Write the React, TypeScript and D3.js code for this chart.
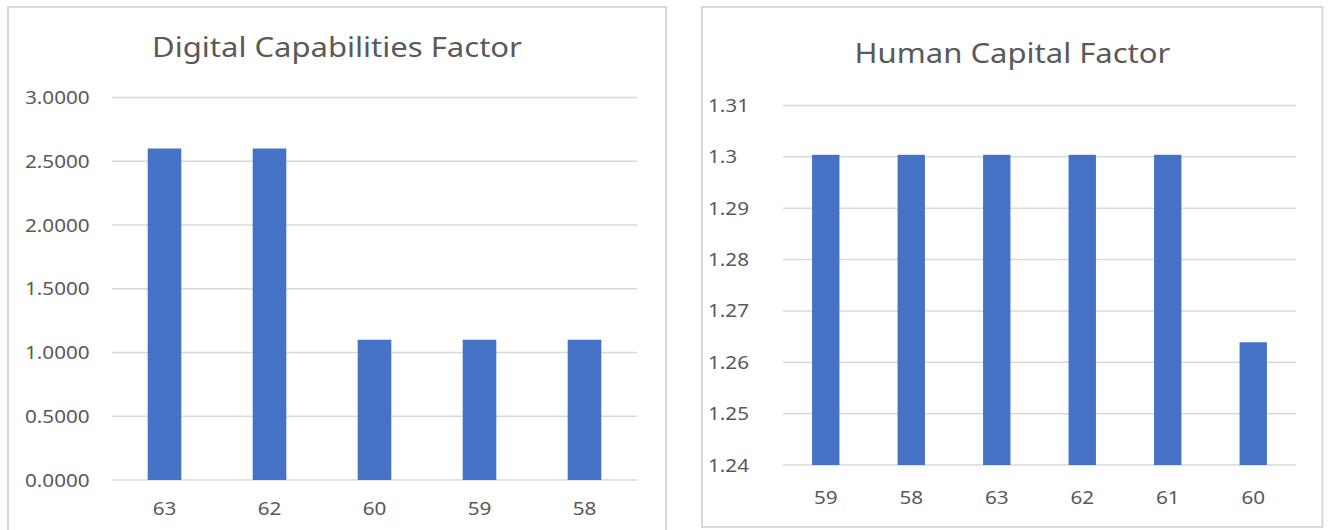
import React from "react";
import * as d3 from "d3";

const leftTitle = "Digital Capabilities Factor";
const leftCategories = ["63", "62", "60", "59", "58"];
const leftValues = [2.6, 2.6, 1.1, 1.1, 1.1];
const leftTicks = [0, 0.5, 1, 1.5, 2, 2.5, 3];

const rightTitle = "Human Capital Factor";
const rightCategories = ["59", "58", "63", "62", "61", "60"];
const rightValues = [1.3004, 1.3004, 1.3004, 1.3004, 1.3004, 1.2639];
const rightTicks = [1.24, 1.25, 1.26, 1.27, 1.28, 1.29, 1.3, 1.31];

const FONT = "'Noto Sans', 'Open Sans', sans-serif";
const TEXT = "#595959";
const GRID = "#d9d9d9";
const BAR = "#4472C4";
const SX = 1.15;

type PanelProps = {
  title: string;
  categories: string[];
  values: number[];
  ticks: number[];
  fmt: (v: number) => string;
  box: { x: number; y: number; w: number; h: number };
  plot: { x0: number; x1: number; y0: number; y1: number };
  domain: [number, number];
  titlePos: { x: number; y: number };
  yLabelX: number;
  xLabelY: number;
};

function SText(props: { x: number; y: number; anchor?: string; size: number; children: React.ReactNode }) {
  return (
    <text
      transform={`translate(${props.x},${props.y}) scale(${SX},1)`}
      textAnchor={props.anchor || "start"}
      fontSize={props.size}
      fontFamily={FONT}
      fill={TEXT}
    >
      {props.children}
    </text>
  );
}

function Panel(p: PanelProps) {
  const x = d3
    .scaleBand<string>()
    .domain(p.categories)
    .range([p.plot.x0, p.plot.x1])
    .paddingInner(0.68)
    .paddingOuter(0.34);
  const y = d3.scaleLinear().domain(p.domain).range([p.plot.y0, p.plot.y1]);
  return (
    <g>
      <rect x={p.box.x} y={p.box.y} width={p.box.w} height={p.box.h} fill="#fff" stroke={GRID} strokeWidth={2} />
      <SText x={p.titlePos.x} y={p.titlePos.y} anchor="middle" size={27}>
        {p.title}
      </SText>
      {p.ticks.map((t) => (
        <g key={t}>
          <line x1={p.plot.x0} x2={p.plot.x1} y1={y(t)} y2={y(t)} stroke={GRID} strokeWidth={1.5} />
          <SText x={p.yLabelX} y={y(t) + 6.5} size={18}>
            {p.fmt(t)}
          </SText>
        </g>
      ))}
      {p.categories.map((c, i) => (
        <g key={c}>
          <rect
            x={x(c)!}
            y={y(p.values[i])}
            width={x.bandwidth()}
            height={y(p.domain[0]) - y(p.values[i])}
            fill={BAR}
          />
          <SText x={x(c)! + x.bandwidth() / 2} y={p.xLabelY} anchor="middle" size={18}>
            {c}
          </SText>
        </g>
      ))}
    </g>
  );
}

export default function App() {
  return (
    <svg width={1328} height={530} style={{ position: "absolute", left: 0, top: 0, background: "#fff" }}>
      <Panel
        title={leftTitle}
        categories={leftCategories}
        values={leftValues}
        ticks={leftTicks}
        fmt={d3.format(".4f")}
        box={{ x: 8, y: 7, w: 658, h: 540 }}
        plot={{ x0: 112, x1: 637, y0: 480, y1: 97.5 }}
        domain={[0, 3]}
        titlePos={{ x: 337, y: 57 }}
        yLabelX={25}
        xLabelY={515}
      />
      <Panel
        title={rightTitle}
        categories={rightCategories}
        values={rightValues}
        ticks={rightTicks}
        fmt={(v) => String(+v.toFixed(2))}
        box={{ x: 702, y: 7, w: 620.5, h: 520 }}
        plot={{ x0: 783, x1: 1296, y0: 465, y1: 105.5 }}
        domain={[1.24, 1.31]}
        titlePos={{ x: 1012.5, y: 63 }}
        yLabelX={708}
        xLabelY={504}
      />
    </svg>
  );
}
